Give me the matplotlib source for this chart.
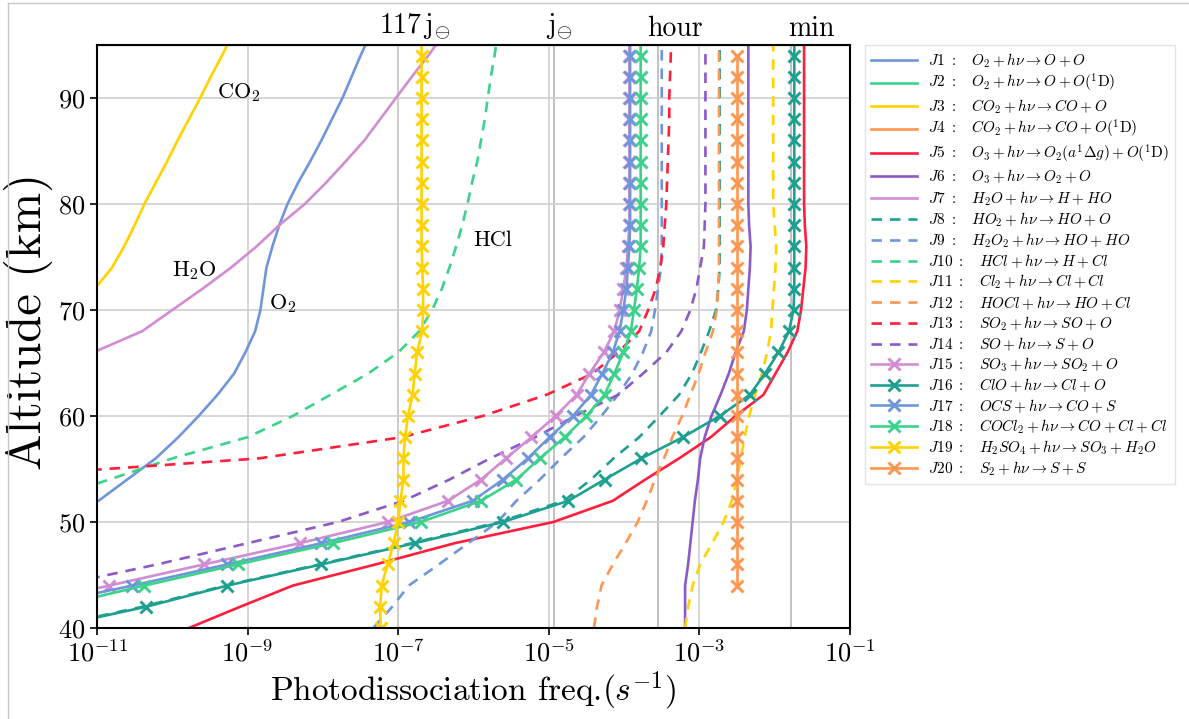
import numpy as np
import matplotlib
matplotlib.use("Agg")
import matplotlib.pyplot as plt
import matplotlib.transforms as mtransforms
from matplotlib.lines import Line2D

plt.rcParams['font.family'] = 'serif'
plt.rcParams['font.serif'] = ['cmr10', 'DejaVu Serif']
plt.rcParams['mathtext.fontset'] = 'cm'
plt.rcParams['axes.formatter.use_mathtext'] = True

nan = np.nan

# altitude grid (km)
ALT = [40, 42, 44, 46, 48, 50, 52, 54, 56, 58, 60, 62, 64, 66, 68,
       70, 72, 74, 76, 78, 80, 82, 84, 86, 88, 90, 92, 94, 96]

# log10 of photodissociation frequencies (s^-1)
J1 = [nan, nan, nan, nan, nan, -11.6, -10.98, -10.6, -10.22, -9.92, -9.65, -9.40, -9.18, -9.03, -8.90,
      -8.83, -8.79, -8.75, -8.67, -8.58, -8.47, -8.33, -8.17, -8.02, -7.88, -7.74, -7.62, -7.50, -7.37]
J2 = []
J3 = [nan, nan, nan, nan, nan, nan, nan, nan, nan, nan, nan, nan, nan, nan, nan,
      -11.3, -11.03, -10.8, -10.64, -10.5, -10.37, -10.22, -10.07, -9.93, -9.78, -9.63, -9.49, -9.34, -9.2]
J4 = []
J5 = [-9.78, -9.10, -8.40, -7.30, -6.25, -4.94, -4.15, -3.72, -3.27, -2.85, -2.52, -2.15, -1.99, -1.83, -1.70,
      -1.65, -1.62, -1.59, -1.58, -1.60, -1.61, -1.61, -1.61, -1.61, -1.61, -1.61, -1.61, -1.61, -1.61]
J6 = [-3.19, -3.19, -3.19, -3.15, -3.12, -3.09, -3.06, -3.02, -2.99, -2.93, -2.84, -2.72, -2.61, -2.52, -2.41,
      -2.37, -2.35, -2.33, -2.32, -2.34, -2.35, -2.35, -2.35, -2.35, -2.35, -2.35, -2.35, -2.35, -2.35]
J7 = [nan, nan, nan, nan, nan, nan, nan, nan, nan, nan, nan, nan, -11.7, -11.05, -10.4,
      -10.0, -9.6, -9.22, -8.88, -8.58, -8.24, -7.96, -7.70, -7.45, -7.24, -7.03, -6.82, -6.60, -6.40]
J8 = [-11.7, -10.4, -9.3, -8.05, -6.82, -5.66, -4.80, -4.44, -4.14, -3.80, -3.53, -3.27, -3.10, -2.98, -2.87,
      -2.78, -2.75, -2.73, -2.73, -2.73, -2.73, -2.73, -2.73, -2.73, -2.73, -2.73, -2.73, -2.73, -2.73]
J9 = [-7.33, -7.08, -6.86, -6.46, -6.07, -5.68, -5.43, -5.12, -4.84, -4.54, -4.30, -4.08, -3.89, -3.75, -3.64,
      -3.59, -3.55, -3.51, -3.50, -3.50, -3.50, -3.50, -3.50, -3.50, -3.50, -3.50, -3.50, -3.50, -3.50]
J10 = [nan, nan, nan, nan, nan, nan, -11.7, -10.84, -10.0, -9.0, -8.4, -7.9, -7.4, -7.0, -6.72,
       -6.55, -6.42, -6.32, -6.23, -6.15, -6.08, -6.02, -5.95, -5.90, -5.85, -5.81, -5.77, -5.72, -5.68]
J11 = [-3.19, -3.15, -3.09, -2.99, -2.83, -2.68, -2.57, -2.50, -2.45, -2.40, -2.34, -2.26, -2.17, -2.10, -2.05,
       -2.03, -2.01, -1.99, -1.98, -2.00, -2.02, -2.02, -2.02, -2.02, -2.02, -2.02, -2.02, -2.02, -2.02]
J12 = [-4.40, -4.36, -4.30, -4.15, -3.98, -3.82, -3.70, -3.59, -3.47, -3.36, -3.23, -3.12, -3.01, -2.92, -2.82,
       -2.77, -2.75, -2.74, -2.74, -2.74, -2.74, -2.74, -2.74, -2.74, -2.74, -2.74, -2.74, -2.74, -2.74]
J13 = [nan, nan, nan, nan, nan, nan, nan, -12.9, -8.85, -6.95, -5.88, -5.03, -4.42, -4.08, -3.80,
       -3.68, -3.58, -3.52, -3.48, -3.46, -3.44, -3.43, -3.42, -3.41, -3.40, -3.40, -3.39, -3.38, -3.38]
J14 = [nan, -12.8, -11.52, -10.2, -9.0, -7.80, -6.93, -6.32, -5.78, -5.18, -4.65, -4.08, -3.75, -3.44, -3.24,
       -3.12, -3.04, -2.99, -2.94, -2.93, -2.92, -2.92, -2.92, -2.92, -2.92, -2.92, -2.92, -2.92, -2.92]
J15 = [-13.3, -12.1, -10.84, -9.58, -8.31, -7.14, -6.34, -5.90, -5.57, -5.23, -4.91, -4.63, -4.46, -4.27, -4.13,
       -4.06, -4.01, -3.97, -3.95, -3.93, -3.93, -3.93, -3.93, -3.93, -3.93, -3.93, -3.93, -3.93, -3.93]
J16 = [-11.65, -10.35, -9.27, -8.02, -6.78, -5.61, -4.74, -4.26, -3.77, -3.22, -2.73, -2.33, -2.13, -1.95, -1.81,
       -1.75, -1.74, -1.74, -1.74, -1.74, -1.74, -1.74, -1.74, -1.74, -1.74, -1.74, -1.74, -1.74, -1.74]
J17 = [-13.1, -11.87, -10.53, -9.27, -8.02, -6.85, -6.01, -5.61, -5.28, -4.99, -4.68, -4.44, -4.29, -4.15, -4.06,
       -4.01, -3.97, -3.95, -3.93, -3.92, -3.92, -3.92, -3.92, -3.92, -3.92, -3.92, -3.92, -3.92, -3.92]
J18 = [-12.8, -11.57, -10.37, -9.13, -7.87, -6.70, -5.90, -5.43, -5.12, -4.79, -4.50, -4.26, -4.13, -4.01, -3.91,
       -3.87, -3.83, -3.80, -3.78, -3.78, -3.78, -3.78, -3.78, -3.78, -3.78, -3.78, -3.78, -3.78, -3.78]
J19 = [-7.23, -7.24, -7.22, -7.14, -7.06, -7.00, -6.97, -6.93, -6.93, -6.91, -6.87, -6.81, -6.78, -6.75, -6.68,
       -6.67, -6.67, -6.68, -6.69, -6.69, -6.69, -6.69, -6.69, -6.69, -6.69, -6.69, -6.69, -6.69, -6.69]
J20 = [nan, nan, -2.50, -2.50, -2.50, -2.50, -2.50, -2.50, -2.50, -2.50, -2.50, -2.50, -2.50, -2.50, -2.50,
       -2.50, -2.50, -2.50, -2.50, -2.50, -2.50, -2.50, -2.50, -2.50, -2.50, -2.50, -2.50, -2.50, nan]

SERIES = [J1, J2, J3, J4, J5, J6, J7, J8, J9, J10, J11, J12, J13, J14, J15, J16, J17, J18, J19, J20]

LABELS = [
    r'$J1\ :\quad O_2 + h\nu \rightarrow O + O$',
    r'$J2\ :\quad O_2 + h\nu \rightarrow O + O(^1\mathrm{D})$',
    r'$J3\ :\quad CO_2 + h\nu \rightarrow CO + O$',
    r'$J4\ :\quad CO_2 + h\nu \rightarrow CO + O(^1\mathrm{D})$',
    r'$J5\ :\quad O_3 + h\nu \rightarrow O_2(a^1\Delta g) + O(^1\mathrm{D})$',
    r'$J6\ :\quad O_3 + h\nu \rightarrow O_2 + O$',
    r'$J7\ :\quad H_2O + h\nu \rightarrow H + HO$',
    r'$J8\ :\quad HO_2 + h\nu \rightarrow HO + O$',
    r'$J9\ :\quad H_2O_2 + h\nu \rightarrow HO + HO$',
    r'$J10\ :\quad HCl + h\nu \rightarrow H + Cl$',
    r'$J11\ :\quad Cl_2 + h\nu \rightarrow Cl + Cl$',
    r'$J12\ :\quad HOCl + h\nu \rightarrow HO + Cl$',
    r'$J13\ :\quad SO_2 + h\nu \rightarrow SO + O$',
    r'$J14\ :\quad SO + h\nu \rightarrow S + O$',
    r'$J15\ :\quad SO_3 + h\nu \rightarrow SO_2 + O$',
    r'$J16\ :\quad ClO + h\nu \rightarrow Cl + O$',
    r'$J17\ :\quad OCS + h\nu \rightarrow CO + S$',
    r'$J18\ :\quad COCl_2 + h\nu \rightarrow CO + Cl + Cl$',
    r'$J19\ :\quad H_2SO_4 + h\nu \rightarrow SO_3 + H_2O$',
    r'$J20\ :\quad S_2 + h\nu \rightarrow S + S$',
]

COLORS = ['#6F96DA', '#3DD28C', '#FFD200', '#FF9650', '#FF1E3C', '#8C5AC8', '#D28CD2', '#1EA091']

XTICKS = [1e-11, 1e-9, 1e-7, 1e-5, 1e-3, 1e-1]
YTICKS = [40, 50, 60, 70, 80, 90]
TOP_TICKS = [1 / (117 * 86400), 1 / 86400, 1 / 3600, 1 / 60]
TOP_LABELS = [r'$117\,\mathrm{j}_{\ominus}$', r'$\mathrm{j}_{\ominus}$', 'hour', 'min']
TOP_SHIFT_PX = [17, 6, 17, 20]

ANNOT = [('CO$_2$', 10 ** -9.12, 90.5), ('H$_2$O', 10 ** -9.71, 73.7),
         ('O$_2$', 10 ** -8.54, 70.6), ('HCl', 10 ** -5.75, 76.6)]

fig = plt.figure(figsize=(11.89, 7.19), dpi=100)
ax = fig.add_axes([97 / 1189, 1 - 628 / 719, (850 - 97) / 1189, (628 - 45) / 719])

for i, (vals, lab) in enumerate(zip(SERIES, LABELS)):
    color = COLORS[i % 8]
    alt = ALT[:len(vals)]
    x = 10 ** np.array(vals, dtype=float) if len(vals) else np.array([])
    kw = dict(color=color, lw=1.9, label=lab)
    if i < 7:
        kw['ls'] = '-'
    elif i < 14:
        kw['ls'] = (0, (4, 3))
    else:
        kw.update(ls='-', marker='x', ms=8.5, mew=2.1)
    ax.plot(x, alt, **kw)

ax.set_xscale('log')
ax.set_xlim(1e-11, 1e-1)
ax.set_ylim(40, 95)
ax.set_xticks(XTICKS)
ax.xaxis.set_minor_locator(matplotlib.ticker.NullLocator())
ax.set_yticks(YTICKS)
ax.grid(True, color='#cfcfcf', lw=1.2)
for t in TOP_TICKS:
    ax.axvline(t, color='#b8b8b8', lw=1.2, zorder=0)
ax.set_axisbelow(True)
ax.tick_params(labelsize=19, length=5, width=1.2)
for s in ax.spines.values():
    s.set_linewidth(1.5)

sec = ax.secondary_xaxis('top')
sec.set_xticks(TOP_TICKS, labels=TOP_LABELS)
sec.xaxis.set_minor_locator(matplotlib.ticker.NullLocator())
sec.tick_params(length=0, labelsize=20, pad=2)
for lbl, dx in zip(sec.get_xticklabels(), TOP_SHIFT_PX):
    lbl.set_transform(lbl.get_transform() +
                      mtransforms.ScaledTranslation(dx / 100, 0, fig.dpi_scale_trans))

ax.set_xlabel(r'Photodissociation freq.$(s^{-1})$', fontsize=24, labelpad=2)
ax.set_ylabel('Altitude (km)', fontsize=35)
ax.yaxis.set_label_coords(-0.058, 0.525)

for txt, xx, yy in ANNOT:
    ax.text(xx, yy, txt, fontsize=16, ha='center', va='center')

fig.legend(loc='upper left', bbox_to_anchor=(865 / 1189, 1 - 45 / 719), borderaxespad=0,
           fontsize=11, labelspacing=0.17, handlelength=3.0, handletextpad=0.7,
           frameon=True, edgecolor='#e4e4e4', framealpha=1, fancybox=False)

fig.add_artist(Line2D([8 / 1189, 8 / 1189], [0, 1 - 3 / 719], transform=fig.transFigure,
                      color='#c8c8c8', lw=1))
fig.add_artist(Line2D([8 / 1189, 1], [1 - 3 / 719, 1 - 3 / 719], transform=fig.transFigure,
                      color='#c8c8c8', lw=1))

fig.savefig('out.png', dpi=100)
